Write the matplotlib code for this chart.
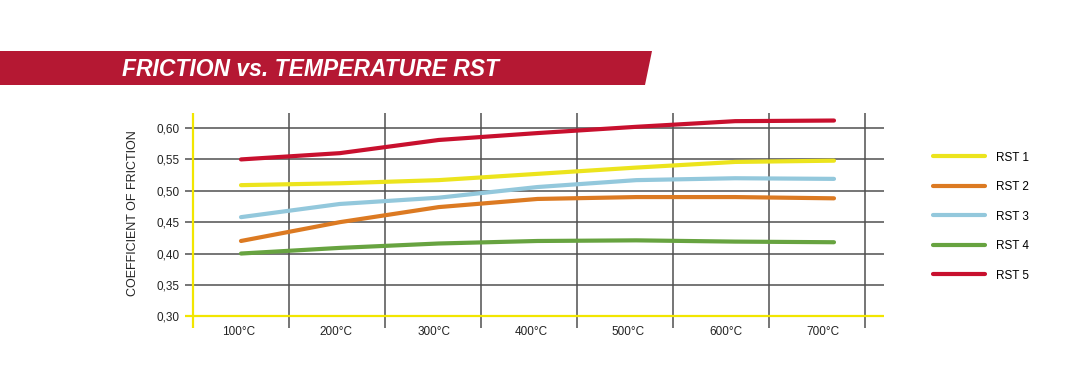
import matplotlib.pyplot as plt
from matplotlib.patches import Polygon
from matplotlib.lines import Line2D

temps = [100, 200, 300, 400, 500, 600, 700]
temp_labels = ['100°C', '200°C', '300°C', '400°C', '500°C', '600°C', '700°C']
y_ticks = [0.30, 0.35, 0.40, 0.45, 0.50, 0.55, 0.60]
y_labels = ['0,30', '0,35', '0,40', '0,45', '0,50', '0,55', '0,60']

rst1 = [0.509, 0.512, 0.517, 0.527, 0.537, 0.546, 0.548]
rst2 = [0.420, 0.450, 0.474, 0.487, 0.490, 0.490, 0.488]
rst3 = [0.458, 0.479, 0.489, 0.506, 0.517, 0.520, 0.519]
rst4 = [0.400, 0.409, 0.416, 0.420, 0.421, 0.419, 0.418]
rst5 = [0.550, 0.560, 0.581, 0.592, 0.602, 0.611, 0.612]

names = ['RST 1', 'RST 2', 'RST 3', 'RST 4', 'RST 5']
colors = ['#ece41d', '#dc7a22', '#93c8dc', '#67a340', '#c8102e']
series = [rst1, rst2, rst3, rst4, rst5]

plt.rcParams['font.family'] = ['Liberation Sans', 'DejaVu Sans']

fig = plt.figure(figsize=(10.92, 3.83), dpi=100)

# title banner
fig.patches.append(Polygon([[0, 1 - 51 / 383], [652 / 1092, 1 - 51 / 383],
                            [645 / 1092, 1 - 85 / 383], [0, 1 - 85 / 383]],
                           closed=True, transform=fig.transFigure,
                           facecolor='#b51833', edgecolor='none'))
fig.text(122 / 1092, 1 - 69 / 383, 'FRICTION vs. TEMPERATURE RST', color='white',
         fontsize=16.5, fontweight='bold', fontstyle='italic', va='center', ha='left')

# grid axes: one unit per temperature band
ax = fig.add_axes([185 / 1092, 1 - 328 / 383, (884 - 185) / 1092, (328 - 113) / 383])
ax.set_xlim(-8 / 96, 691 / 96)
ax.set_ylim(0.2813, 0.624)
for s in ax.spines.values():
    s.set_visible(False)

for y in y_ticks[1:]:
    ax.axhline(y, color='#505050', lw=1.1, zorder=1)
for k in range(1, 8):
    ax.axvline(k, color='#505050', lw=1.1, zorder=1)
ax.axhline(0.30, color='#f2e600', lw=1.6, zorder=2)
ax.axvline(0, color='#f2e600', lw=1.6, zorder=2)

ax.set_yticks(y_ticks)
ax.set_yticklabels(y_labels, fontsize=8.5, color='#222222')
ax.set_xticks([0.48 + 1.0135 * i for i in range(len(temp_labels))])
ax.set_xticklabels(temp_labels, fontsize=8.5, color='#222222')
ax.tick_params(length=0, pad=4)
ax.tick_params(axis='x', pad=-1.5)
fig.text(133 / 1092, 1 - 213.5 / 383, 'COEFFICIENT OF FRICTION', fontsize=9,
         color='#222222', rotation=90, ha='center', va='center')

# data axes in degrees
ax2 = ax.twiny()
ax2.set_xlim(100 - 56 / 0.98833, 100 + 643 / 0.98833)
ax2.set_xticks([])
for s in ax2.spines.values():
    s.set_visible(False)
for vals, c, n in zip(series, colors, names):
    ax2.plot(temps, vals, color=c, lw=3, solid_capstyle='round',
             solid_joinstyle='round', zorder=3, label=n)

handles = [Line2D([], [], color=c, lw=3, solid_capstyle='round') for c in colors]
fig.legend(handles, names, loc='upper left', bbox_to_anchor=(922 / 1092, 1 - 141 / 383),
           frameon=False, fontsize=8.5, handlelength=4.4, handletextpad=1.0,
           labelspacing=1.48)

fig.savefig('out.png', dpi=100)
